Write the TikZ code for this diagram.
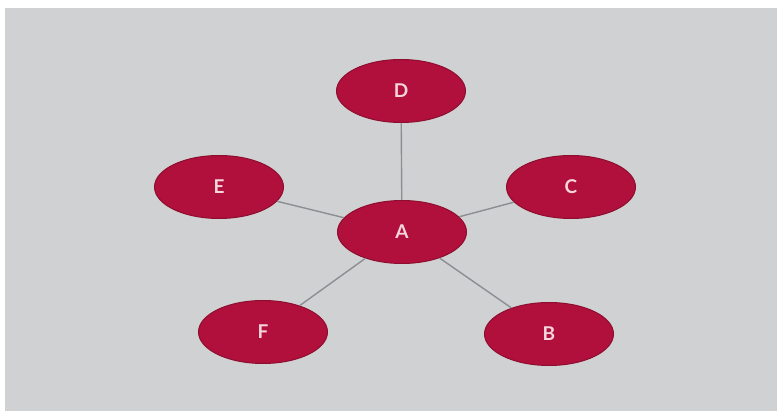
\documentclass[tikz,border=0pt]{standalone}
\usepackage{fontspec}
\setmainfont{Lato}
\usetikzlibrary{shapes.geometric}
\definecolor{panel}{HTML}{D0D1D3}
\definecolor{bubble}{HTML}{B0103B}
\definecolor{bubbleedge}{HTML}{8E0E30}
\definecolor{link}{HTML}{8C8E92}
\definecolor{label}{HTML}{F6D6DC}
\tikzset{
  bubblenode/.style={ellipse, fill=bubble, draw=bubbleedge, line width=1pt,
    minimum width=129pt, minimum height=63pt, inner sep=0pt,
    text=label, font=\fontsize{19}{19}\selectfont\bfseries},
  linkline/.style={draw=link, line width=1.4pt}
}
\begin{document}
\begin{tikzpicture}[x=1pt, y=-1pt]
  \useasboundingbox (0,0) rectangle (777,411);
  % white margin with the grey panel inside
  \fill[white] (0,0) rectangle (777,411);
  \fill[panel] (5,8) rectangle (777,411);
  % hub and its five satellites
  \node[bubblenode] (A) at (402,232) {A};
  \node[bubblenode] (D) at (401,91) {D};
  \node[bubblenode] (E) at (219,187) {E};
  \node[bubblenode] (C) at (571,187) {C};
  \node[bubblenode] (F) at (263,332) {F};
  \node[bubblenode] (B) at (549,334) {B};
  % spokes from the hub
  \draw[linkline] (A) -- (D);
  \draw[linkline] (A) -- (E);
  \draw[linkline] (A) -- (C);
  \draw[linkline] (A) -- (F);
  \draw[linkline] (A) -- (B);
\end{tikzpicture}
\end{document}
